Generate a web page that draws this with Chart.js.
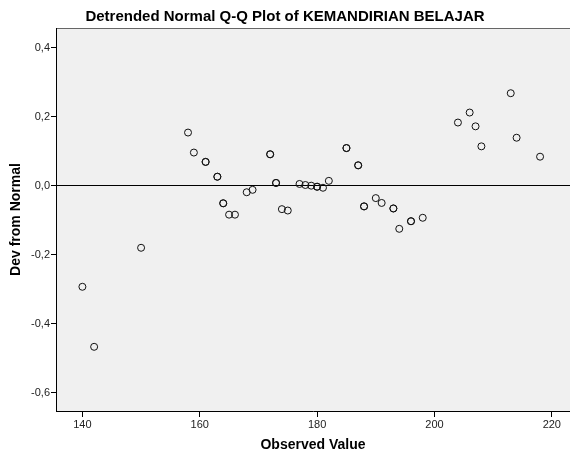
<!DOCTYPE html>
<html>
<head>
<meta charset="utf-8">
<title>Detrended Normal Q-Q Plot</title>
<script src="https://cdn.jsdelivr.net/npm/chart.js@4.4.0/dist/chart.umd.min.js"></script>
<style>
  html, body { margin: 0; padding: 0; background: #fff; }
  #wrap { width: 570px; height: 456px; }
</style>
</head>
<body>
<div id="wrap"><canvas id="qq" width="570" height="456"></canvas></div>
<script>
/* ===== Data ===== */
// repeated values = tied observations (drawn twice, look bolder)
const observed = [
  140, 142, 150, 158, 159, 161, 161, 163, 163, 164, 164, 165, 166, 168, 169,
  172, 172, 173, 173, 174, 175, 177, 178, 179, 180, 180, 181, 182,
  185, 185, 187, 187, 188, 188, 190, 191, 193, 193, 194, 196, 196, 198,
  204, 206, 207, 208, 213, 214, 218
];
const devFromNormal = [
  -0.293, -0.467, -0.180, 0.154, 0.096, 0.069, 0.069, 0.026, 0.026, -0.051, -0.051, -0.084, -0.084, -0.019, -0.012,
  0.091, 0.091, 0.008, 0.008, -0.068, -0.072, 0.005, 0.002, 0.000, -0.003, -0.003, -0.006, 0.014,
  0.109, 0.109, 0.059, 0.059, -0.060, -0.060, -0.036, -0.050, -0.066, -0.066, -0.125, -0.103, -0.103, -0.093,
  0.183, 0.212, 0.172, 0.114, 0.268, 0.139, 0.084
];
const xTicks = [140, 160, 180, 200, 220];
const yTicks = [-0.6, -0.4, -0.2, 0.0, 0.2, 0.4];

const FONT = "'Liberation Sans', Arial, Helvetica, sans-serif";

/* ===== Plugin: grey plot background + top border ===== */
const plotBg = {
  id: "plotBg",
  beforeDraw(chart) {
    const { ctx, chartArea: a } = chart;
    ctx.save();
    ctx.fillStyle = "#f0f0f0";
    ctx.fillRect(a.left, a.top, a.right - a.left, a.bottom - a.top);
    ctx.strokeStyle = "#666";
    ctx.lineWidth = 1;
    ctx.beginPath();
    ctx.moveTo(a.left, a.top + 0.5);
    ctx.lineTo(a.right, a.top + 0.5);
    ctx.stroke();
    ctx.restore();
  }
};

const points = observed.map((v, i) => ({ x: v, y: devFromNormal[i] }));

new Chart(document.getElementById("qq").getContext("2d"), {
  type: "scatter",
  data: {
    datasets: [{
      data: points,
      pointRadius: 3.5,
      pointHoverRadius: 3.5,
      pointBorderWidth: 1,
      pointBorderColor: "#111",
      pointBackgroundColor: "rgba(0,0,0,0)"
    }]
  },
  options: {
    responsive: false,
    animation: false,
    devicePixelRatio: 1,
    layout: { padding: 0, autoPadding: false },
    plugins: {
      legend: { display: false },
      tooltip: { enabled: false },
      title: {
        display: true,
        text: "Detrended Normal Q-Q Plot of KEMANDIRIAN BELAJAR",
        color: "#000",
        font: { family: FONT, size: 15, weight: "bold" },
        padding: { top: 8, bottom: 2 }
      }
    },
    scales: {
      x: {
        type: "linear",
        min: 135.5,
        max: 223.1,
        afterFit: s => { s.height = 45; s.paddingLeft = 0; s.paddingRight = 0; },
        afterBuildTicks: s => { s.ticks = xTicks.map(v => ({ value: v })); },
        border: { display: true, color: "#000", width: 1 },
        grid: { drawOnChartArea: false, drawTicks: true, tickLength: 6, tickColor: "#000" },
        ticks: {
          color: "#222",
          padding: 1,
          maxRotation: 0,
          font: { family: FONT, size: 11 },
          callback: v => String(v)
        },
        title: {
          display: true,
          text: "Observed Value",
          color: "#000",
          font: { family: FONT, size: 14, weight: "bold" },
          padding: { top: 0, bottom: 2.6 }
        }
      },
      y: {
        type: "linear",
        min: -0.653,
        max: 0.457,
        afterFit: s => { s.width = 56; s.paddingTop = 0; s.paddingBottom = 0; },
        afterBuildTicks: s => { s.ticks = yTicks.map(v => ({ value: v })); },
        border: { display: true, color: "#000", width: 1 },
        grid: {
          drawOnChartArea: true,
          drawTicks: true,
          tickLength: 5,
          tickColor: "#000",
          color: c => (c.tick && Math.abs(c.tick.value) < 1e-9 ? "#000" : "rgba(0,0,0,0)")
        },
        ticks: {
          color: "#222",
          padding: 1,
          font: { family: FONT, size: 11 },
          callback: v => Number(v).toFixed(1).replace(".", ",")
        },
        title: {
          display: true,
          text: "Dev from Normal",
          color: "#000",
          font: { family: FONT, size: 14, weight: "bold" },
          padding: { top: 7.6, bottom: 0 }
        }
      }
    }
  },
  plugins: [plotBg]
});
</script>
</body>
</html>
